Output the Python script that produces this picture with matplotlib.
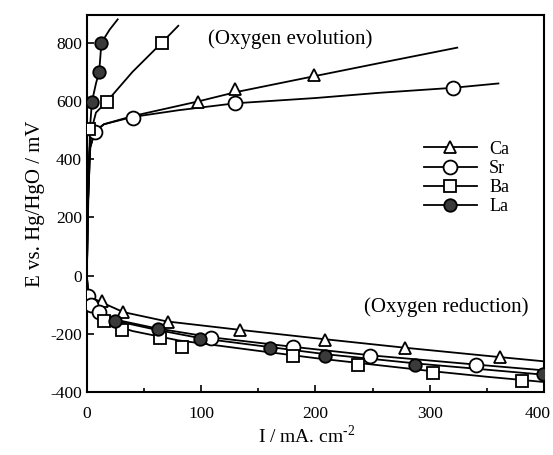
import matplotlib
matplotlib.use("Agg")
import matplotlib.pyplot as plt
from matplotlib.ticker import MultipleLocator

plt.rcParams["font.family"] = ["Liberation Serif", "DejaVu Serif"]
plt.rcParams["mathtext.fontset"] = "custom"
plt.rcParams["mathtext.rm"] = "Liberation Serif"
plt.rcParams["axes.unicode_minus"] = False

# ---- oxygen evolution branch: fitted curves ----
ca_evo_x = [0, 1, 3, 7, 15, 40, 97, 130, 199, 256, 324]
ca_evo_y = [0, 250, 440, 495, 520, 548, 598, 630, 685, 730, 783]
sr_evo_x = [0, 1, 3, 7, 15, 40, 80, 130, 200, 256, 320, 360]
sr_evo_y = [0, 250, 440, 495, 520, 545, 568, 592, 610, 628, 645, 660]
ba_evo_x = [0, 1, 2, 4, 8, 17.5, 40, 65.6, 80]
ba_evo_y = [0, 250, 420, 500, 560, 598, 700, 800, 858]
la_evo_x = [0, 1, 2, 3, 4.5, 8, 10.8, 12.8, 20, 27]
la_evo_y = [0, 200, 400, 520, 598, 660, 700, 800, 845, 880]

# ---- oxygen evolution branch: measured points ----
ca_evo_mx = [97, 130, 199]
ca_evo_my = [596, 640, 688]
sr_evo_mx = [7, 40, 130, 320]
sr_evo_my = [495, 542, 592, 645]
ba_evo_mx = [1.5, 17.5, 65.6]
ba_evo_my = [505, 596, 800]
la_evo_mx = [4.5, 10.8, 12.8]
la_evo_my = [598, 700, 800]

# ---- oxygen reduction branch: fitted curves ----
ca_red_x = [0, 1, 4, 12, 32, 70, 134, 208, 280, 360, 400]
ca_red_y = [0, -50, -75, -90, -125, -157, -186, -218, -248, -279, -294]
sr_red_x = [0, 1, 5, 11, 30, 60, 110, 180, 250, 340, 400]
sr_red_y = [0, -62, -100, -125, -155, -180, -212, -244, -274, -305, -325]
ba_red_x = [0, 1, 3, 10, 20, 40, 80, 150, 200, 250, 300, 350, 400]
ba_red_y = [0, -60, -100, -140, -165, -190, -222, -258, -283, -305, -327, -347, -365]
la_red_x = [0, 1, 3, 10, 25, 60, 100, 160, 210, 290, 400]
la_red_y = [0, -55, -95, -130, -155, -185, -215, -245, -270, -302, -340]

# ---- oxygen reduction branch: measured points ----
ca_red_mx = [13, 32, 71, 134, 208, 278, 361]
ca_red_my = [-88, -126, -160, -186, -220, -248, -279]
sr_red_mx = [1, 4, 11, 109, 180, 248, 340]
sr_red_my = [-70, -100, -126, -214, -244, -275, -306]
ba_red_mx = [15, 31, 64, 83, 180, 237, 303, 381]
ba_red_my = [-155, -185, -214, -244, -275, -306, -334, -361]
la_red_mx = [24.5, 62, 99, 160, 208, 287, 399]
la_red_my = [-155, -184, -218, -248, -274, -305, -338]

x_ticks = [0, 100, 200, 300, 400]

fig = plt.figure(figsize=(5.53, 4.55), dpi=100)
ax = fig.add_axes([0.157, 0.138, 0.827, 0.829])

lw = 1.3
mk = dict(markeredgecolor="black", markeredgewidth=1.3, linestyle="none", zorder=3)

# curves
for xs, ys in [(ca_evo_x, ca_evo_y), (sr_evo_x, sr_evo_y), (ba_evo_x, ba_evo_y), (la_evo_x, la_evo_y),
               (ca_red_x, ca_red_y), (sr_red_x, sr_red_y), (ba_red_x, ba_red_y), (la_red_x, la_red_y)]:
    ax.plot(xs, ys, color="black", lw=lw, zorder=2)

# points
ax.plot(ca_evo_mx + ca_red_mx, ca_evo_my + ca_red_my, marker="^", markersize=9, markerfacecolor="white", **mk)
ax.plot(sr_evo_mx + sr_red_mx, sr_evo_my + sr_red_my, marker="o", markersize=10, markerfacecolor="white", **mk)
ax.plot(ba_evo_mx + ba_red_mx, ba_evo_my + ba_red_my, marker="s", markersize=8, markerfacecolor="white", **mk)
ax.plot(la_evo_mx + la_red_mx, la_evo_my + la_red_my, marker="o", markersize=9, markerfacecolor="#3a3a3a", **mk)

# legend handles
h_ca, = ax.plot([], [], color="black", lw=lw, marker="^", markersize=9, markerfacecolor="white", markeredgewidth=1.3)
h_sr, = ax.plot([], [], color="black", lw=lw, marker="o", markersize=10, markerfacecolor="white", markeredgewidth=1.3)
h_ba, = ax.plot([], [], color="black", lw=lw, marker="s", markersize=8, markerfacecolor="white", markeredgewidth=1.3)
h_la, = ax.plot([], [], color="black", lw=lw, marker="o", markersize=9, markerfacecolor="#3a3a3a", markeredgewidth=1.3)
ax.legend([h_ca, h_sr, h_ba, h_la], ["Ca", "Sr", "Ba", "La"], frameon=False, fontsize=13,
          loc="upper left", bbox_to_anchor=(0.71, 0.70), handlelength=2.9, labelspacing=0.12,
          handletextpad=0.7, borderpad=0.2)

ax.text(0.445, 0.935, "(Oxygen evolution)", transform=ax.transAxes, fontsize=15, ha="center", va="center")
ax.text(0.785, 0.225, "(Oxygen reduction)", transform=ax.transAxes, fontsize=15, ha="center", va="center")

ax.set_xlim(0, 400)
ax.set_ylim(-400, 895)
# last x label sits at the canvas edge in the original, so nudge it inward by hand
ax.set_xticks(x_ticks, [str(t) for t in x_ticks[:-1]] + [""])
ax.annotate(str(x_ticks[-1]), xy=(x_ticks[-1], 0), xycoords=("data", "axes fraction"),
            xytext=(-5, -10), textcoords="offset points", ha="center", va="top", fontsize=12.5)
ax.xaxis.set_minor_locator(MultipleLocator(50))
ax.yaxis.set_major_locator(MultipleLocator(200))
ax.tick_params(which="both", direction="in", labelsize=12.5, top=False, right=False, width=1.2)
ax.tick_params(which="major", length=5)
ax.tick_params(which="minor", length=3)
ax.tick_params(axis="x", pad=10)
for s in ax.spines.values():
    s.set_linewidth(1.5)

ax.set_xlabel("I / mA. cm$^{\\text{-2}}$", fontsize=14, labelpad=2, x=0.48)
ax.set_ylabel("E vs. Hg/HgO / mV", fontsize=15, labelpad=4)

fig.savefig("out.png", dpi=100, facecolor="white")
